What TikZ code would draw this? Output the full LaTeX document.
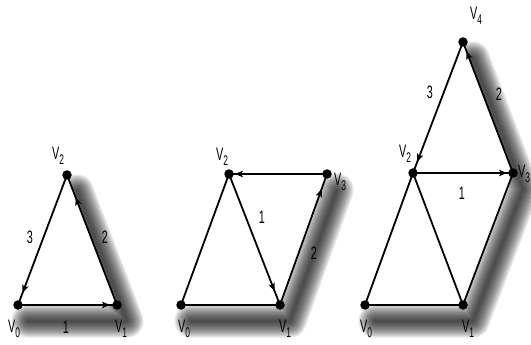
\documentclass[tikz,border=0pt]{standalone}
\usepackage{fontspec}
\usetikzlibrary{arrows.meta,decorations.markings}
\newfontfamily\lblfont[FakeStretch=0.6]{Liberation Sans}
\newcommand\vsub[1]{V\raisebox{-0.55ex}{\fontsize{14}{14}\selectfont #1}}

\begin{document}
\begin{tikzpicture}[x=1pt,y=-1pt,
  edge/.style={line width=1.8pt},
  arredge/.style={edge,postaction={decorate},
    decoration={markings,mark=at position -#1 with {\arrow{Stealth[length=8pt,width=6.5pt,inset=2pt]}}}},
  arredge/.default=9pt,
  vdot/.style={circle,fill,inner sep=0pt,minimum size=9.5pt},
  lbl/.style={font=\lblfont\fontsize{18}{18}\selectfont,inner sep=0pt},
  shadeline/.style={line join=round,line cap=round,black,opacity=0.1}]
  \useasboundingbox (0,0) rectangle (531,345);
  % vertices
  \coordinate (a0) at (18,305);  \coordinate (a1) at (117,305); \coordinate (a2) at (67,175);
  \coordinate (b0) at (181,305); \coordinate (b1) at (280,305); \coordinate (b2) at (229,174);
  \coordinate (b3) at (327,174);
  \coordinate (c0) at (365,305); \coordinate (c1) at (463,305); \coordinate (c2) at (413,173);
  \coordinate (c3) at (513,173); \coordinate (c4) at (463,42);
  % drop shadows
  \foreach \w in {3,6,...,33} {
    \draw[shadeline,line width=\w pt] ([shift={(10,16)}]a0) -- ([shift={(10,16)}]a1) -- ([shift={(10,16)}]a2);
    \draw[shadeline,line width=\w pt] ([shift={(10,16)}]b0) -- ([shift={(10,16)}]b1) -- ([shift={(10,16)}]b3);
    \draw[shadeline,line width=\w pt] ([shift={(10,16)}]c0) -- ([shift={(10,16)}]c1) -- ([shift={(10,16)}]c3) -- ([shift={(10,16)}]c4);
  }
  \fill[white] (a0) -- (a1) -- (a2) -- cycle;
  \fill[white] (b0) -- (b1) -- (b3) -- (b2) -- cycle;
  \fill[white] (c0) -- (c1) -- (c3) -- (c4) -- (c2) -- cycle;
  % first triangle
  \draw[arredge=7pt] (a0) -- (a1);
  \draw[arredge=24pt] (a1) -- (a2);
  \draw[arredge=13pt] (a2) -- (a0);
  % two triangles
  \draw[edge] (b0) -- (b1);
  \draw[edge] (b0) -- (b2);
  \draw[arredge=15pt] (b2) -- (b1);
  \draw[arredge=16pt] (b1) -- (b3);
  \draw[arredge=6pt] (b3) -- (b2);
  % three triangles
  \draw[edge] (c0) -- (c1);
  \draw[edge] (c0) -- (c2);
  \draw[edge] (c2) -- (c1);
  \draw[edge] (c1) -- (c3);
  \draw[arredge=6pt] (c2) -- (c3);
  \draw[arredge=10pt] (c3) -- (c4);
  \draw[arredge=12pt] (c4) -- (c2);
  % points
  \foreach \p in {a0,a1,a2,b0,b1,b2,b3,c0,c1,c2,c3,c4}
    \node[vdot] (d\p) at (\p) {};
  % labels
  \node[lbl] (la0) at (14,329) {\vsub{0}};
  \node[lbl] (la1) at (121,329) {\vsub{1}};
  \node[lbl] (la2) at (58,156) {\vsub{2}};
  \node[lbl] (ea1) at (66,327) {1};
  \node[lbl] (ea2) at (105,237) {2};
  \node[lbl] (ea3) at (30,237) {3};
  \node[lbl] (lb0) at (184,329) {\vsub{0}};
  \node[lbl] (lb1) at (285,329) {\vsub{1}};
  \node[lbl] (lb2) at (222,157) {\vsub{2}};
  \node[lbl] (lb3) at (340,182) {\vsub{3}};
  \node[lbl] (eb1) at (262,217) {1};
  \node[lbl] (eb2) at (314,253) {2};
  \node[lbl] (lc0) at (366,329) {\vsub{0}};
  \node[lbl] (lc1) at (468,329) {\vsub{1}};
  \node[lbl] (lc2) at (405,154) {\vsub{2}};
  \node[lbl] (lc3) at (524,174) {\vsub{3}};
  \node[lbl] (lc4) at (476,16) {\vsub{4}};
  \node[lbl] (ec1) at (462,193) {1};
  \node[lbl] (ec2) at (499,94) {2};
  \node[lbl] (ec3) at (430,92) {3};
\end{tikzpicture}
\end{document}
